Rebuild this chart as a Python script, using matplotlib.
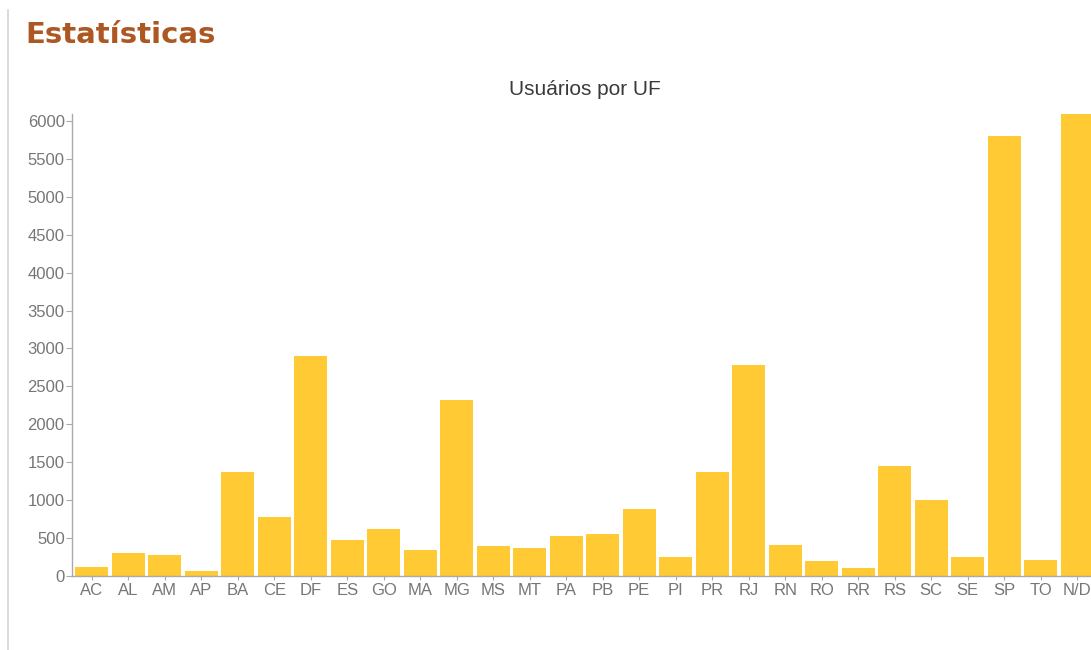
import matplotlib
matplotlib.use("Agg")
import matplotlib.pyplot as plt
from matplotlib.lines import Line2D

# Registered users per Brazilian state (UF)
states = ["AC", "AL", "AM", "AP", "BA", "CE", "DF", "ES", "GO", "MA", "MG", "MS",
          "MT", "PA", "PB", "PE", "PI", "PR", "RJ", "RN", "RO", "RR", "RS", "SC",
          "SE", "SP", "TO", "N/D"]
users = [120, 295, 275, 60, 1365, 770, 2900, 470, 610, 340, 2320, 385,
         360, 520, 550, 880, 245, 1365, 2780, 405, 195, 95, 1450, 995,
         240, 5800, 210, 6090]
y_ticks = list(range(0, 6001, 500))

page_title = "Estatísticas"
chart_title = "Usuários por UF"

W, H = 1091, 650
DPI = 100
plt.rcParams["font.family"] = ["Liberation Sans", "DejaVu Sans"]

fig = plt.figure(figsize=(W / DPI, H / DPI), dpi=DPI)
fig.patch.set_facecolor("white")

# Plot area in pixels: baseline at y=575.6, 6000 at y=121.3, bands start at x=71.65
base_px = 575.6
px_per_unit = (575.6 - 121.3) / 6000.0
ymax = max(users)
top_px = base_px - ymax * px_per_unit
left_px = 71.65
step_px = 36.5
n = len(states)
pad = 0.1
width_px = step_px * (n + pad)

ax = fig.add_axes([left_px / W, (H - base_px) / H, width_px / W, (base_px - top_px) / H])
ax.set_facecolor("none")

xs = list(range(n))
ax.bar(xs, users, width=1 - pad, color="#FFCA33", edgecolor="none")
ax.set_xlim(-pad - (1 - pad) / 2, n - 1 + (1 - pad) / 2 + pad)
ax.set_ylim(0, ymax)

ax.set_xticks(xs)
ax.set_xticklabels(states)
ax.set_yticks(y_ticks)
ax.set_yticklabels([str(v) for v in y_ticks])

axis_col = "#aaaaaa"
label_col = "#767676"
for side in ("top", "right"):
    ax.spines[side].set_visible(False)
for side in ("left", "bottom"):
    ax.spines[side].set_color(axis_col)
    ax.spines[side].set_linewidth(1.0)
ax.tick_params(axis="y", length=4, width=0.8, color=axis_col, pad=1.0,
               labelsize=12, labelcolor=label_col)
ax.tick_params(axis="x", length=3, width=0.8, color=axis_col, pad=2.5,
               labelsize=12, labelcolor=label_col)

# Chart title centered over the plot range
cx = (left_px + width_px / 2) / W
fig.text(cx, (H - 95) / H, chart_title, ha="center", va="baseline",
         fontsize=15, color="#3a3a3a")

# Page heading and side rule
fig.text(25 / W, (H - 43) / H, page_title, ha="left", va="baseline",
         fontsize=21, fontweight="bold", color="#AD5723",
         family=["DejaVu Sans"])
fig.add_artist(Line2D([8 / W, 8 / W], [0, (H - 10) / H], transform=fig.transFigure,
                      color="#d4d4d4", linewidth=1.2))

fig.savefig("out.png", dpi=DPI, facecolor="white")
